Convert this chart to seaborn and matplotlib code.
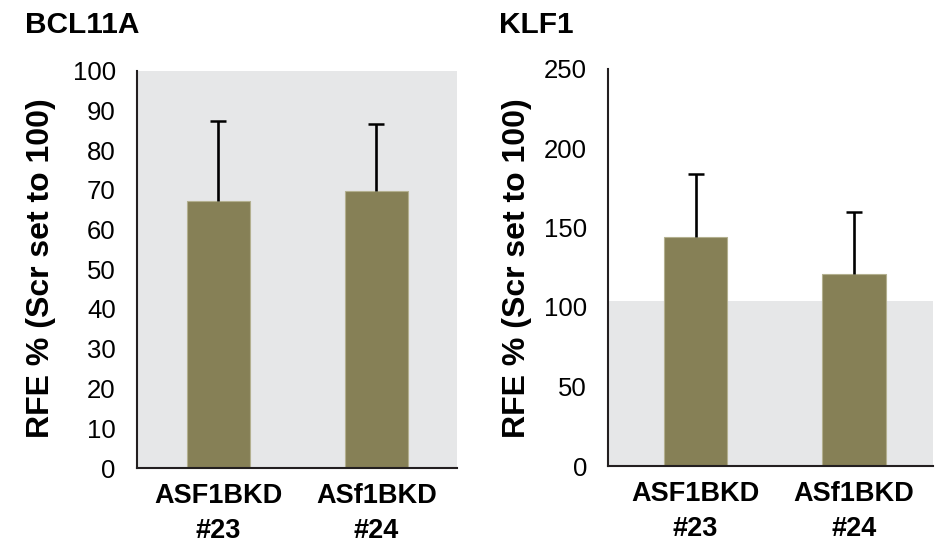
import matplotlib
matplotlib.use("Agg")
import matplotlib.pyplot as plt
import seaborn as sns
import numpy as np

# Relative fold enrichment, scrambled control set to 100
groups = ["ASF1BKD\n#23", "ASf1BKD\n#24"]
bcl11a_mean = [67.2, 69.6]
bcl11a_err = [20.1, 17.0]
klf1_mean = [143.8, 120.6]
klf1_err = [39.7, 39.0]

bcl11a_ticks = list(range(0, 101, 10))
klf1_ticks = list(range(0, 251, 50))

BAR = "#868056"
BAR_EDGE = "#b3b08f"
PANEL = "#e6e7e8"
INK = "#231f20"

sns.set_theme(style="white")
plt.rcParams["font.family"] = ["Liberation Sans", "DejaVu Sans"]

W, H = 944, 548
fig = plt.figure(figsize=(W / 100, H / 100), dpi=100)


def px_axes(left, top, right, bottom):
    return fig.add_axes([left / W, 1 - bottom / H, (right - left) / W, (bottom - top) / H])


def draw_panel(ax, means, errs, ticks, xlim):
    sns.barplot(x=groups, y=means, ax=ax, color=BAR, saturation=1, width=0.4,
                edgecolor=BAR_EDGE, linewidth=0.8, errorbar=None, zorder=2)
    xs = np.arange(len(groups))
    tops = np.array(means) + np.array(errs)
    ax.vlines(xs, means, tops, color="black", linewidth=1.9, zorder=3)
    ax.plot(xs, tops, linestyle="none", marker="_", markersize=12,
            markeredgewidth=1.8, color="black", zorder=3)
    ax.set_ylim(ticks[0], ticks[-1])
    ax.set_yticks(ticks)
    ax.set_yticklabels([str(t) for t in ticks])
    ax.set_xlim(*xlim)
    ax.tick_params(axis="y", length=0, pad=15, labelsize=18.5, labelcolor="black")
    ax.tick_params(axis="x", length=0, pad=11, labelsize=19.5, labelcolor="black")
    for lab in ax.get_xticklabels():
        lab.set_fontweight("bold")
        lab.set_linespacing(1.45)
    for side in ("top", "right"):
        ax.spines[side].set_visible(False)
    for side in ("left", "bottom"):
        ax.spines[side].set_color(INK)
        ax.spines[side].set_linewidth(1.5)
    ax.set_xlabel("")
    ax.set_ylabel("")


# BCL11A panel: shaded plot area
ax1 = px_axes(136.5, 70.5, 457, 468)
ax1.set_facecolor(PANEL)
draw_panel(ax1, bcl11a_mean, bcl11a_err, bcl11a_ticks, (-0.518, 1.51))

# KLF1 panel: shaded band around the control level
ax2 = px_axes(608, 68.5, 933, 466)
ax2.set_facecolor("white")
ax2.axhspan(0, 104, color=PANEL, zorder=0, linewidth=0)
draw_panel(ax2, klf1_mean, klf1_err, klf1_ticks, (-0.553, 1.50))

ylab = "RFE % (Scr set to 100)"
fig.text(41 / W, 1 - 268 / H, ylab, rotation=90, ha="center", va="center",
         fontsize=23, fontweight="bold", color="black")
fig.text(517 / W, 1 - 268 / H, ylab, rotation=90, ha="center", va="center",
         fontsize=23, fontweight="bold", color="black")

fig.text(25 / W, 1 - 33 / H, "BCL11A", ha="left", va="baseline",
         fontsize=21.5, fontweight="bold", color="black")
fig.text(499 / W, 1 - 33 / H, "KLF1", ha="left", va="baseline",
         fontsize=21.5, fontweight="bold", color="black")

fig.savefig("out.png", dpi=100, facecolor="white")
